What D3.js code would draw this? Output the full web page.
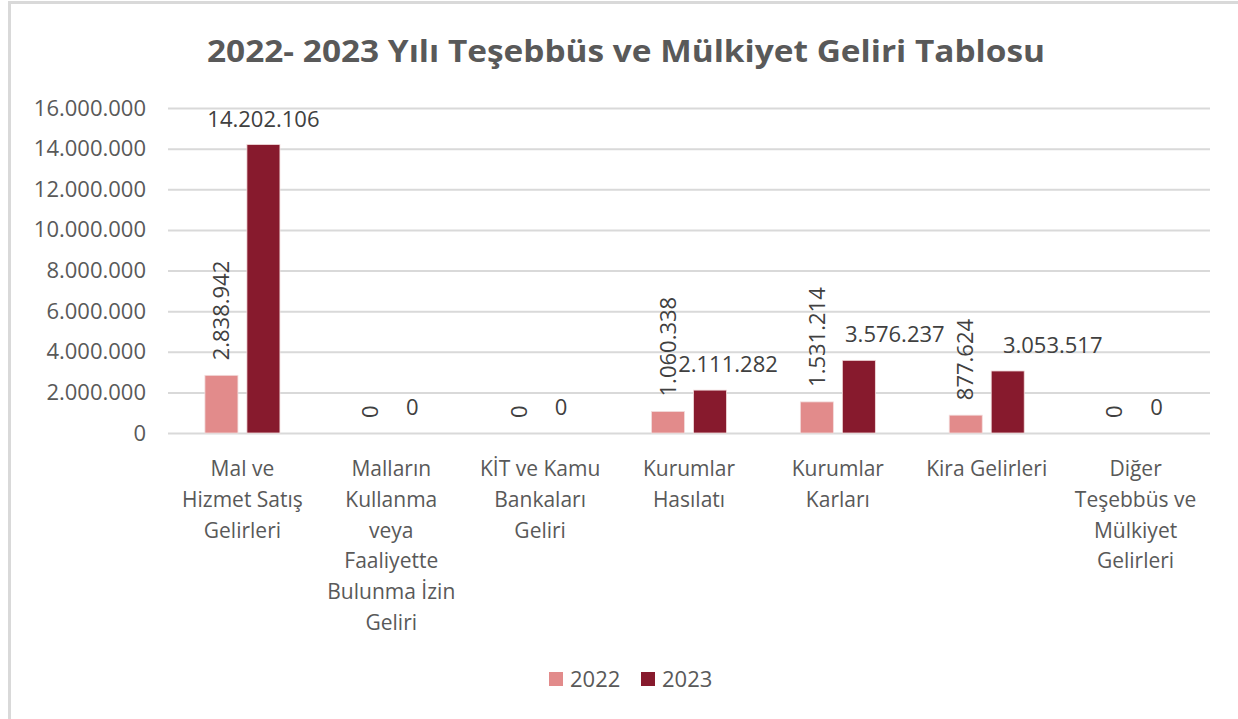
<!DOCTYPE html>
<html>
<head>
<meta charset="utf-8">
<script src="https://cdn.jsdelivr.net/npm/d3@7"></script>
<style>
  body { margin: 0; background: #fff; }
  svg text { font-family: "Open Sans", "Noto Sans", sans-serif; }
</style>
</head>
<body>
<div id="chart"></div>
<script>
// Teşebbüs ve mülkiyet gelirleri, 2022 - 2023

const width = 1238;
const height = 719;

const title = "2022- 2023 Yılı Teşebbüs ve Mülkiyet Geliri Tablosu";

const categories = [
  "Mal ve Hizmet Satış Gelirleri",
  "Malların Kullanma veya Faaliyette Bulunma İzin Geliri",
  "KİT ve Kamu Bankaları Geliri",
  "Kurumlar Hasılatı",
  "Kurumlar Karları",
  "Kira Gelirleri",
  "Diğer Teşebbüs ve Mülkiyet Gelirleri"
];

// etiketlerin satırlara bölünmüş hali (Excel'deki gibi)
const categoryLines = [
  ["Mal ve", "Hizmet Satış", "Gelirleri"],
  ["Malların", "Kullanma", "veya", "Faaliyette", "Bulunma İzin", "Geliri"],
  ["KİT ve Kamu", "Bankaları", "Geliri"],
  ["Kurumlar", "Hasılatı"],
  ["Kurumlar", "Karları"],
  ["Kira Gelirleri"],
  ["Diğer", "Teşebbüs ve", "Mülkiyet", "Gelirleri"]
];

const seriesNames = ["2022", "2023"];
const values2022 = [2838942, 0, 0, 1060338, 1531214, 877624, 0];
const values2023 = [14202106, 0, 0, 2111282, 3576237, 3053517, 0];

const yTicks = [0, 2000000, 4000000, 6000000, 8000000, 10000000, 12000000, 14000000, 16000000];

const colors = { "2022": "#e28b8b", "2023": "#871a2d" };

const rows = categories.map((c, i) => ({
  category: c,
  lines: categoryLines[i],
  values: { "2022": values2022[i], "2023": values2023[i] }
}));

const fmt = d3.formatLocale({ decimal: ",", thousands: ".", grouping: [3], currency: ["", " TL"] }).format(",d");

const fontSize = "22px";

const svg = d3.select("#chart")
  .append("svg")
  .attr("width", width)
  .attr("height", height);

// kenarlık (sadece üst ve sol görünüyor)
svg.append("line").attr("x1", 9).attr("x2", width).attr("y1", 2.5).attr("y2", 2.5)
  .attr("stroke", "#d9d9d9").attr("stroke-width", 3);
svg.append("line").attr("x1", 9.5).attr("x2", 9.5).attr("y1", 1).attr("y2", height)
  .attr("stroke", "#d9d9d9").attr("stroke-width", 3);

const margin = { left: 168, right: width - 1210, top: 108, bottom: height - 433 };

const x0 = d3.scaleBand()
  .domain(categories)
  .range([margin.left, width - margin.right]);

const groupWidth = 75;
const x1 = d3.scaleBand()
  .domain(seriesNames)
  .range([0, groupWidth])
  .paddingInner(0.214);

const y = d3.scaleLinear()
  .domain([0, 16000000])
  .range([height - margin.bottom, margin.top]);

// başlık
svg.append("text")
  .attr("x", 626)
  .attr("y", 62)
  .attr("text-anchor", "middle")
  .attr("textLength", 838)
  .attr("lengthAdjust", "spacingAndGlyphs")
  .style("font-size", "31px")
  .style("font-weight", "bold")
  .style("fill", "#595959")
  .text(title);

// y ekseni ve ızgara
const yAxis = d3.axisLeft(y)
  .tickValues(yTicks)
  .tickSize(-(width - margin.left - margin.right))
  .tickPadding(22)
  .tickFormat(fmt);

svg.append("g")
  .attr("transform", `translate(${margin.left},0)`)
  .call(yAxis)
  .call(g => g.select(".domain").remove())
  .call(g => g.selectAll(".tick line").attr("stroke", "#d9d9d9").attr("stroke-width", 2))
  .call(g => g.selectAll(".tick text")
    .style("font-size", fontSize)
    .style("fill", "#595959"));

// çubuklar
const groups = svg.append("g")
  .selectAll("g")
  .data(rows)
  .join("g")
  .attr("transform", d => `translate(${x0(d.category) + (x0.bandwidth() - groupWidth) / 2},0)`);

groups.selectAll("rect")
  .data(d => seriesNames.map(s => ({ series: s, value: d.values[s] })))
  .join("rect")
  .attr("x", d => x1(d.series))
  .attr("width", x1.bandwidth())
  .attr("y", d => y(d.value))
  .attr("height", d => y(0) - y(d.value))
  .attr("fill", d => colors[d.series])
  .attr("stroke", "#f2dcdc")
  .attr("stroke-width", 0.8);

// 2023 etiketlerinin Excel'de elle kaydırılmış konumları
const labelNudge2023 = [0, 0, 0, 18, 36, 45, 0];

// 2022 değerleri dikey etiket
groups.append("text")
  .attr("transform", d => {
    const cx = x1("2022") + x1.bandwidth() / 2;
    return `translate(${cx},${y(d.values["2022"]) - 15}) rotate(-90)`;
  })
  .attr("dy", "0.35em")
  .attr("text-anchor", "start")
  .style("font-size", fontSize)
  .style("fill", "#404040")
  .text(d => fmt(d.values["2022"]));

// 2023 değerleri yatay etiket
groups.append("text")
  .attr("x", (d, i) => x1("2023") + x1.bandwidth() / 2 + labelNudge2023[i])
  .attr("y", d => y(d.values["2023"]) - 18)
  .attr("text-anchor", "middle")
  .style("font-size", fontSize)
  .style("fill", "#404040")
  .text(d => fmt(d.values["2023"]));

// kategori etiketleri
const catLabels = svg.append("g")
  .selectAll("text")
  .data(rows)
  .join("text")
  .attr("x", d => x0(d.category) + x0.bandwidth() / 2)
  .attr("y", 476)
  .attr("text-anchor", "middle")
  .style("font-size", "21px")
  .style("fill", "#595959");

catLabels.selectAll("tspan")
  .data(d => d.lines)
  .join("tspan")
  .attr("x", function () { return d3.select(this.parentNode).attr("x"); })
  .attr("dy", (d, i) => i === 0 ? 0 : 30.8)
  .text(d => d);

// lejant
const legend = svg.append("g").attr("transform", "translate(549,672)");
const legendX = [0, 92];
seriesNames.forEach((s, i) => {
  legend.append("rect")
    .attr("x", legendX[i])
    .attr("y", 0)
    .attr("width", 14)
    .attr("height", 14)
    .attr("fill", colors[s]);
  legend.append("text")
    .attr("x", legendX[i] + 21)
    .attr("y", 7)
    .attr("dy", "0.35em")
    .style("font-size", fontSize)
    .style("fill", "#595959")
    .text(s);
});
</script>
</body>
</html>
